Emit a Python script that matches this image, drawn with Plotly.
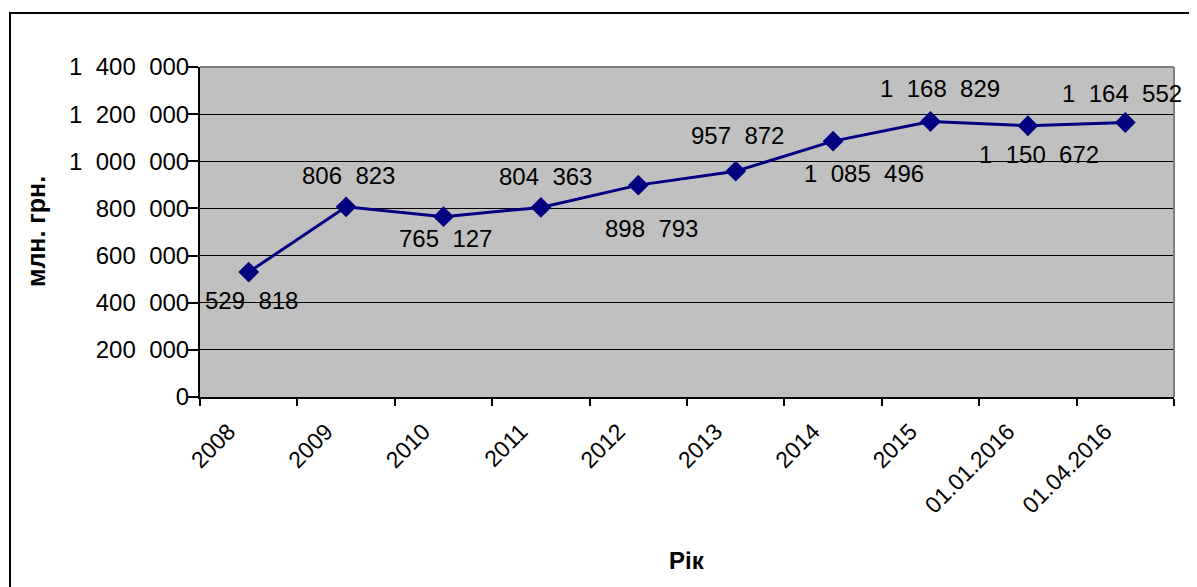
import plotly.graph_objects as go

categories = ["2008", "2009", "2010", "2011", "2012", "2013", "2014", "2015",
              "01.01.2016", "01.04.2016"]
values = [529818, 806823, 765127, 804363, 898793, 957872, 1085496, 1168829,
          1150672, 1164552]
y_ticks = [0, 200000, 400000, 600000, 800000, 1000000, 1200000, 1400000]

# label offsets in pixels (layout only)
label_dx = [3, 2, 2, 5, 13, 2, 31, 9, 11, -3]
label_dy = [-28, 31, -22, 31, -43, 36, -32, 33, -29, 29]

SEP = "\u2007"


def fmt(v):
    return f"{v:,}".replace(",", SEP)


FONT = "Liberation Sans, Arial"

# the page body has an 8px margin; shift the figure to compensate
OFF = 8
W, H = 1197 - OFF, 587 - OFF
PL, PR, PT, PB = 200 - OFF, 1174 - OFF, 67 - OFF, 397 - OFF
PW, PH = PR - PL, PB - PT


def px_x(x):
    return (x - OFF - PL) / PW


def px_y(y):
    return (PB - (y - OFF)) / PH


fig = go.Figure()
fig.add_trace(go.Scatter(
    x=categories, y=values, mode="lines+markers",
    line=dict(color="#000080", width=3),
    marker=dict(symbol="diamond", size=16, color="#000080"),
    hoverinfo="skip", showlegend=False,
))

annotations = []
for i, (v, dx, dy) in enumerate(zip(values, label_dx, label_dy)):
    annotations.append(dict(
        x=i, y=v, xref="x", yref="y", text=fmt(v), showarrow=False,
        xshift=dx, yshift=dy, xanchor="center", yanchor="middle",
        font=dict(family=FONT, size=24, color="black"),
    ))

annotations.append(dict(
    x=px_x(36), y=0.5, xref="paper", yref="paper", text="<b>млн. грн.</b>",
    textangle=-90, showarrow=False, xanchor="center", yanchor="middle",
    font=dict(family=FONT, size=25, color="black"),
))
annotations.append(dict(
    x=px_x(687), y=px_y(560), xref="paper", yref="paper", text="<b>Рік</b>",
    showarrow=False, xanchor="center", yanchor="middle",
    font=dict(family=FONT, size=24, color="black"),
))

shapes = [
    dict(type="rect", xref="paper", yref="paper",
         x0=px_x(10), x1=px_x(1210), y0=px_y(620), y1=px_y(13),
         line=dict(color="black", width=2), fillcolor="rgba(0,0,0,0)", layer="above"),
    dict(type="line", xref="paper", yref="paper", x0=0, x1=1, y0=1, y1=1,
         line=dict(color="#808080", width=2), layer="above"),
    dict(type="line", xref="paper", yref="paper", x0=1, x1=1, y0=0, y1=1,
         line=dict(color="#808080", width=2), layer="above"),
]

fig.update_layout(
    width=W, height=H, autosize=False,
    margin=dict(l=PL, r=W - PR, t=PT, b=H - PB, pad=0),
    paper_bgcolor="white", plot_bgcolor="#C0C0C0",
    annotations=annotations, shapes=shapes,
    xaxis=dict(
        type="category", range=[-0.5, len(categories) - 0.5],
        tickson="boundaries", ticks="outside", ticklen=7, tickwidth=1.5,
        tickcolor="black", showline=True, linecolor="black", linewidth=2,
        showgrid=False, tickangle=-45,
        ticklabelstandoff=10, ticklabelshift=-20,
        tickfont=dict(family=FONT, size=23, color="black"),
        fixedrange=True,
    ),
    yaxis=dict(
        range=[0, 1400000], tickvals=y_ticks, ticktext=[fmt(t) for t in y_ticks],
        ticks="outside", ticklen=10, tickwidth=1.5, tickcolor="black",
        showline=True, linecolor="black", linewidth=2,
        showgrid=True, gridcolor="black", gridwidth=1, zeroline=False,
        ticklabelstandoff=-6,
        tickfont=dict(family=FONT, size=24, color="black"),
        fixedrange=True,
    ),
)

fig.write_html("out.html")
